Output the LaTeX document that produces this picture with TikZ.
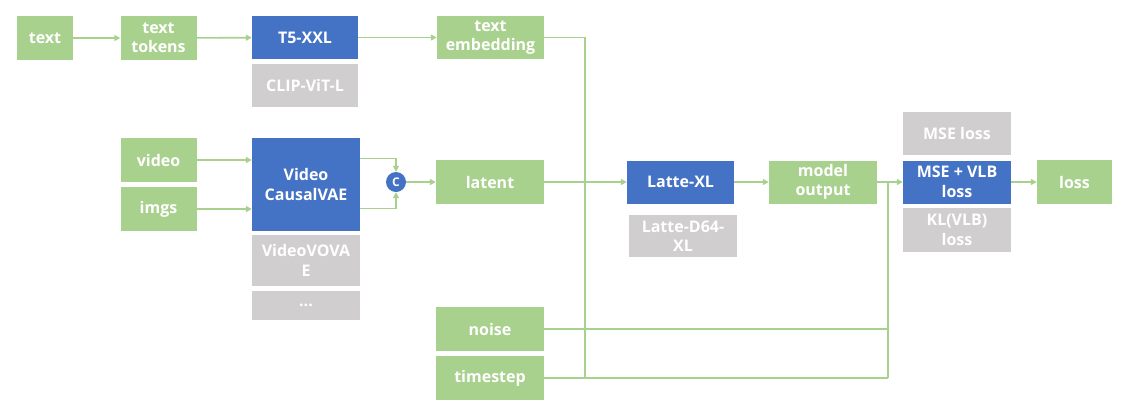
\documentclass[tikz,border=0pt]{standalone}
\usepackage{fontspec}
\setmainfont{Open Sans}
\usetikzlibrary{arrows.meta,calc}
\definecolor{gfill}{HTML}{A9D18E}
\definecolor{bfill}{HTML}{4472C4}
\definecolor{yfill}{HTML}{D0CECE}
\begin{document}
\begin{tikzpicture}[x=1pt,y=-1pt,
  box/.style={inner sep=0pt, align=center, text=white, font=\bfseries\fontsize{16}{19.5}\selectfont},
  gbox/.style={box, fill=gfill},
  bbox/.style={box, fill=bfill},
  ybox/.style={box, fill=yfill},
  conn/.style={draw=gfill, line width=1.6pt},
  arr/.style={conn, -{Triangle[width=6pt,length=6pt]}}]
\useasboundingbox (0,0) rectangle (1128,413);
\fill[white] (0,0) rectangle (1128,413);
% top row
\node[gbox, minimum width=56pt, minimum height=44pt] (text) at (45,38) {text};
\node[gbox, minimum width=76pt, minimum height=44pt] (tok) at (158.5,38) {text\\tokens};
\node[bbox, minimum width=106pt, minimum height=43pt] (t5) at (305,37.5) {T5-XXL};
\node[ybox, minimum width=106pt, minimum height=43pt] (clip) at (305,85.5) {CLIP-ViT-L};
\node[gbox, minimum width=107pt, minimum height=43pt] (temb) at (490.5,37.5) {text\\embedding};
% video branch
\node[gbox, minimum width=76pt, minimum height=44pt] (video) at (158.5,160) {video};
\node[gbox, minimum width=76pt, minimum height=44pt] (imgs) at (158.5,209) {imgs};
\node[bbox, minimum width=108pt, minimum height=93pt] (vae) at (306,184.5) {Video\\CausalVAE};
\node[ybox, minimum width=108pt, minimum height=51pt] (vovae) at (306,260.5) {VideoVOVA\\E};
\node[ybox, minimum width=108pt, minimum height=29pt] (dots) at (306,305) {...};
\node[circle, fill=bfill, inner sep=0pt, minimum size=20pt, text=white, font=\bfseries\fontsize{12}{14}\selectfont] (c) at (396,182) {C};
\node[gbox, minimum width=108pt, minimum height=44pt] (latent) at (490,182) {latent};
% model
\node[bbox, minimum width=107pt, minimum height=43pt] (latte) at (680.5,182) {Latte-XL};
\node[ybox, minimum width=108pt, minimum height=42pt] (d64) at (683,236) {Latte-D64-\\XL};
\node[gbox, minimum width=108pt, minimum height=43pt] (mout) at (823,182) {model\\output};
\node[ybox, minimum width=108pt, minimum height=43pt] (mse) at (957,133.5) {MSE loss};
\node[bbox, minimum width=108pt, minimum height=43pt] (vlb) at (957,182) {MSE + VLB\\loss};
\node[ybox, minimum width=108pt, minimum height=44pt] (kl) at (957,230) {KL(VLB)\\loss};
\node[gbox, minimum width=75pt, minimum height=44pt] (loss) at (1074.5,182) {loss};
% bottom inputs
\node[gbox, minimum width=108pt, minimum height=44pt] (noise) at (490,329) {noise};
\node[gbox, minimum width=108pt, minimum height=44pt] (ts) at (490,378) {timestep};
\coordinate (jx) at (585,0);
\coordinate (jy) at (888,0);
% connectors
\draw[arr] (text) -- (tok);
\draw[arr] (tok) -- (t5);
\draw[arr] (t5) -- (temb);
\draw[arr] (video) -- (video -| vae.west);
\draw[arr] (imgs) -- (imgs -| vae.west);
\draw[arr] ([yshift=26pt]vae.east) -| (c.north);
\draw[arr] ([yshift=-24pt]vae.east) -| (c.south);
\draw[arr] (c) -- (latent);
\draw[arr] (latent) -- (latte);
\draw[arr] (latte) -- (mout);
\draw[arr] (mout) -- (vlb);
\draw[arr] (vlb) -- (loss);
\draw[conn] (temb.east) -| (jx |- ts);
\draw[conn] (ts.east) -- (ts -| jy);
\draw[conn] (noise.east) -- (noise -| jy);
\draw[conn] (jy |- ts) -- (jy |- vlb);
\end{tikzpicture}
\end{document}
